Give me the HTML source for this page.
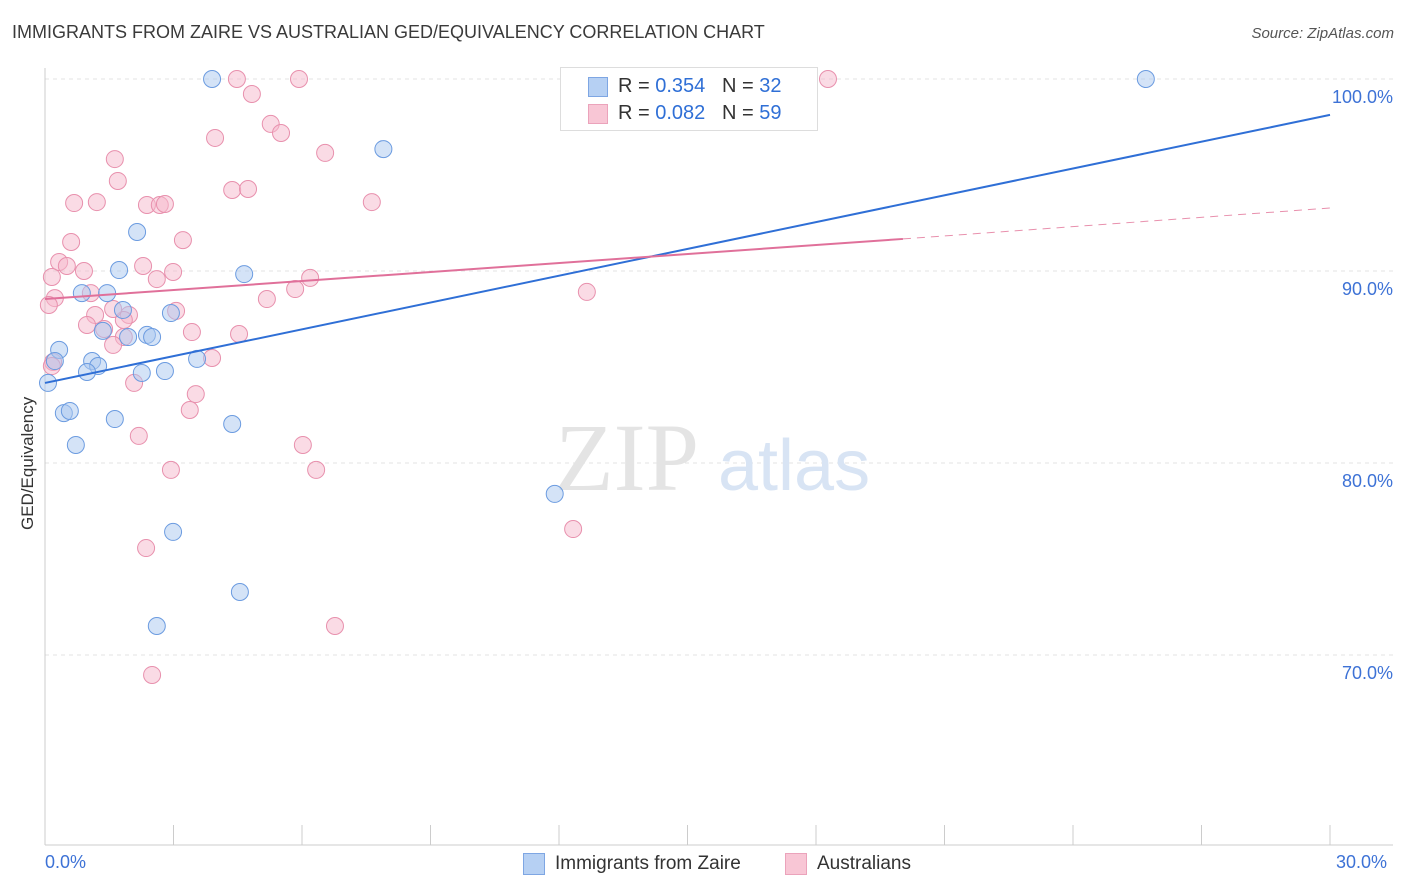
<!DOCTYPE html>
<html><head><meta charset="utf-8"><style>
body{margin:0;background:#fff;font-family:"Liberation Sans",sans-serif;}
#wrap{position:relative;width:1406px;height:892px;overflow:hidden}
.t{position:absolute;white-space:nowrap}
</style></head><body>
<div id="wrap">
<div class="t" style="left:12px;top:22px;font-size:18px;color:#3a3a3a">IMMIGRANTS FROM ZAIRE VS AUSTRALIAN GED/EQUIVALENCY CORRELATION CHART</div>
<div class="t" style="right:12px;top:25px;font-size:15px;color:#555;font-style:italic">Source: ZipAtlas.com</div>
<svg id="svg" width="1406" height="892" style="position:absolute;left:0;top:0"></svg>
</div>
<script>
const blueX=[3.9,25.7,7.9,2.15,1.73,4.65,0.86,1.45,1.82,2.94,1.35,1.94,2.38,2.5,0.33,0.23,1.1,1.24,3.55,0.98,2.26,2.8,0.07,0.44,0.58,1.63,4.37,0.72,11.9,2.99,4.55,2.61];
const blueY=[100,100,96.35,92.03,90.05,89.84,88.85,88.85,87.97,87.81,86.88,86.56,86.67,86.56,85.89,85.31,85.31,85.05,85.42,84.74,84.69,84.79,84.17,82.6,82.71,82.29,82.03,80.94,78.39,76.41,73.28,71.51];
const pinkX=[4.48,5.93,18.28,4.83,5.27,5.51,3.97,6.54,1.63,1.7,4.37,4.74,0.68,1.21,7.63,2.38,2.68,2.8,0.61,3.22,0.33,0.51,2.29,0.16,0.91,2.99,2.61,6.19,5.84,1.07,0.23,5.18,12.65,3.06,1.17,1.96,0.98,1.38,3.43,4.53,1.84,1.59,0.19,3.9,2.08,3.52,3.38,2.19,6.02,2.94,6.33,12.33,2.36,6.77,2.5,0.16,1.84,1.59,0.09];
const pinkY=[100,100,100,99.22,97.66,97.19,96.93,96.15,95.83,94.69,94.22,94.27,93.54,93.59,93.59,93.44,93.44,93.49,91.51,91.61,90.47,90.26,90.26,89.69,90,89.95,89.58,89.64,89.06,88.85,88.59,88.54,88.91,87.92,87.71,87.71,87.19,86.98,86.82,86.72,86.56,86.15,85.26,85.47,84.17,83.59,82.76,81.41,80.94,79.64,79.64,76.56,75.57,71.51,68.96,85.05,87.45,88.02,88.23];
const blueLine=[[0,84.17],[30,98.13]];
const pinkLine=[[0,88.54],[20.03,91.67],[30,93.28]];
const yTicks=[100,90,80,70];
const xLabels=["0.0%","30.0%"];
const X=v=>45+v/30*1285, Y=v=>79+(100-v)*19.2;
const s=document.getElementById('svg'),NS='http://www.w3.org/2000/svg';
function el(t,a){const e=document.createElementNS(NS,t);for(const k in a)e.setAttribute(k,a[k]);s.appendChild(e);return e;}
for(const t of yTicks){
 const g=el('line',{x1:45,x2:1393,y1:Y(t),y2:Y(t),stroke:'#e3e3e3','stroke-dasharray':'4,4'});
 
 
 const tx=el('text',{x:1393,y:Y(t)+24,'text-anchor':'end','font-size':18,fill:'#3d72d6','font-family':'Liberation Sans, sans-serif'});
 tx.textContent=t.toFixed(1)+'%';
 
 
}
el('line',{x1:45,x2:45,y1:68,y2:845,stroke:'#ccc'});
el('line',{x1:45,x2:1393,y1:845,y2:845,stroke:'#ccc'});
for(let i=0;i<=10;i++){const t=el('line',{x1:X(i*3),x2:X(i*3),y1:825,y2:845,stroke:'#ccc'});
 
 }
const wm=el('text',{x:555,y:490,'font-size':96,fill:'#e4e4e4','font-family':'Liberation Serif, serif'});wm.textContent='ZIP';


const wm2=el('text',{x:718,y:490,'font-size':72,fill:'#d8e4f4','font-family':'Liberation Sans, sans-serif'});wm2.textContent='atlas';


function pts(xs,ys,f,st,n){for(let i=0;i<xs.length;i++){const c=el('circle',{cx:X(xs[i]),cy:Y(ys[i]),r:8.5,fill:f,'fill-opacity':0.5,stroke:st,'stroke-width':1});
 
 }}
pts(pinkX,pinkY,'#f5b8cb','#e890ad','australians-point');
pts(blueX,blueY,'#a9c8f0','#6b9be0','zaire-point');
const bl=el('line',{x1:X(blueLine[0][0]),y1:Y(blueLine[0][1]),x2:X(blueLine[1][0]),y2:Y(blueLine[1][1]),stroke:'#2f6fd6','stroke-width':2});


const pl=el('line',{x1:X(pinkLine[0][0]),y1:Y(pinkLine[0][1]),x2:X(pinkLine[1][0]),y2:Y(pinkLine[1][1]),stroke:'#e0709a','stroke-width':2});


const pd=el('line',{x1:X(pinkLine[1][0]),y1:Y(pinkLine[1][1]),x2:X(pinkLine[2][0]),y2:Y(pinkLine[2][1]),stroke:'#e890ad','stroke-width':1,'stroke-dasharray':'8,6'});


</script>
<div class="t" style="left:45px;top:852px;font-size:18px;color:#3d72d6">0.0%</div>
<div class="t" style="left:1336px;top:852px;font-size:18px;color:#3d72d6">30.0%</div>
<div class="t" style="left:18px;top:530px;font-size:17px;color:#333;transform:rotate(-90deg);transform-origin:0 0">GED/Equivalency</div>
<div style="position:absolute;left:560px;top:67px;width:256px;height:62px;border:1px solid #ddd;background:#fff">
 <div style="position:absolute;left:27px;top:9px;width:18px;height:18px;background:#b6d0f3;border:1px solid #7ea6e3"></div>
 <div class="t" style="left:57px;top:7px;font-size:20px;color:#333">R = <span style="color:#2f6fd6">0.354</span>&nbsp;&nbsp;&nbsp;N = <span style="color:#2f6fd6">32</span></div>
 <div style="position:absolute;left:27px;top:36px;width:18px;height:18px;background:#f8c6d5;border:1px solid #eba3bb"></div>
 <div class="t" style="left:57px;top:34px;font-size:20px;color:#333">R = <span style="color:#2f6fd6">0.082</span>&nbsp;&nbsp;&nbsp;N = <span style="color:#2f6fd6">59</span></div>
</div>
<div style="position:absolute;left:523px;top:853px;width:20px;height:20px;background:#b6d0f3;border:1px solid #7ea6e3"></div>
<div class="t" style="left:555px;top:853px;font-size:19px;color:#333">Immigrants from Zaire</div>
<div style="position:absolute;left:785px;top:853px;width:20px;height:20px;background:#f8c6d5;border:1px solid #eba3bb"></div>
<div class="t" style="left:817px;top:853px;font-size:19px;color:#333">Australians</div>
</body></html>
